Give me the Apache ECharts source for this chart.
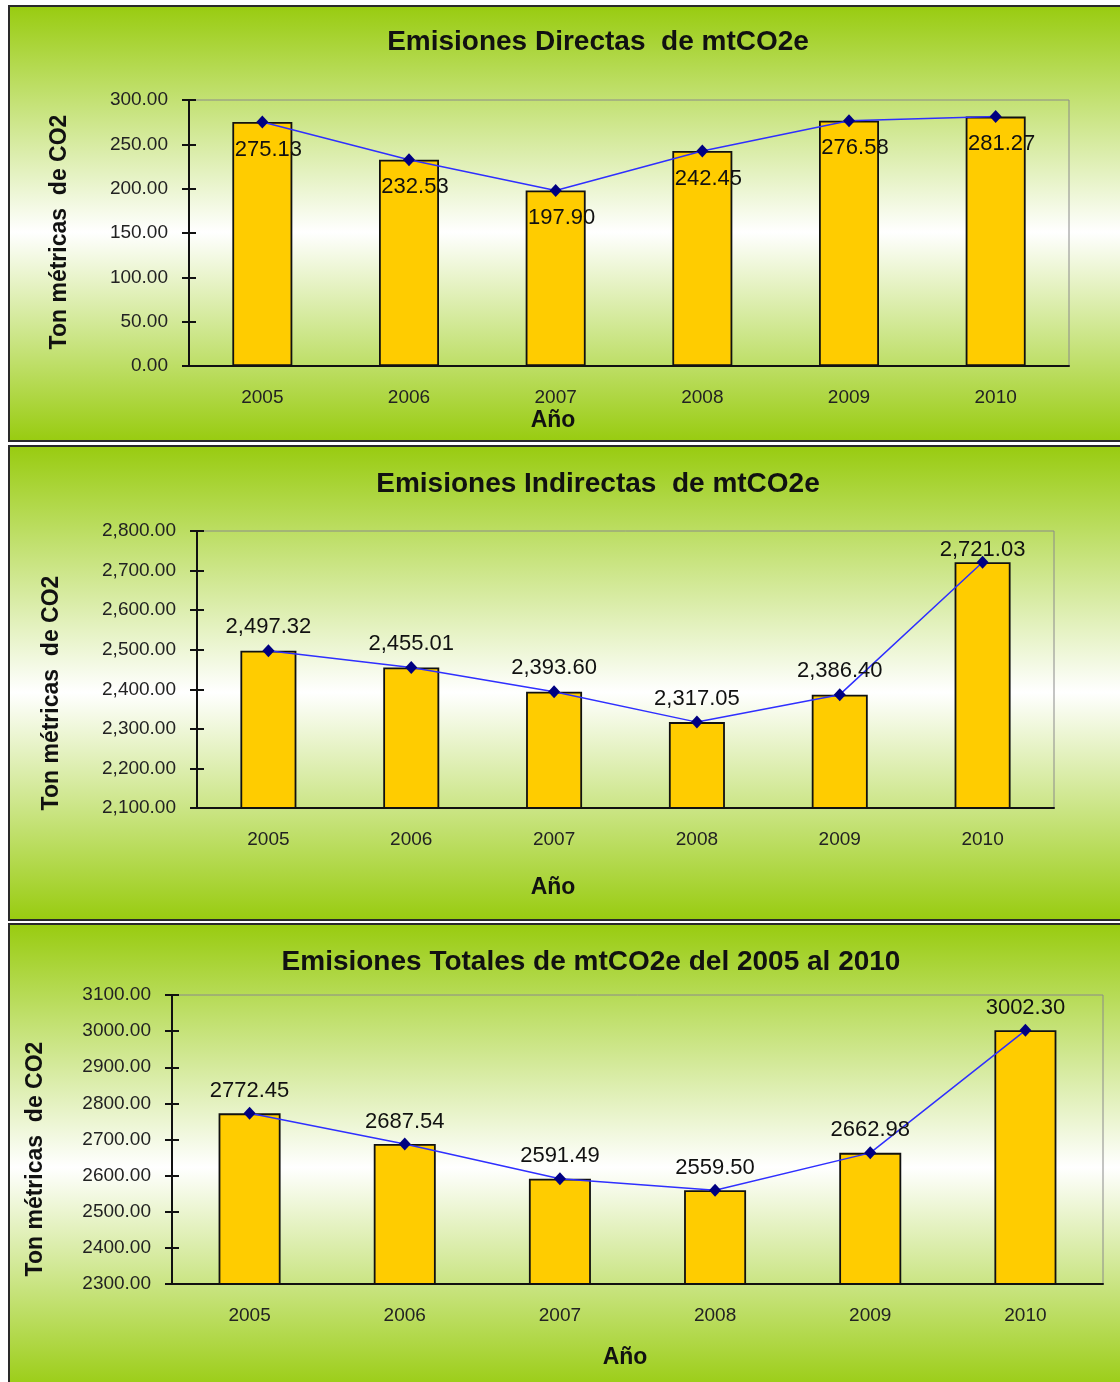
<!DOCTYPE html>
<html>
<head>
<meta charset="utf-8">
<script src="https://cdn.jsdelivr.net/npm/echarts@6/dist/echarts.min.js"></script>
<style>
  body { margin: 0; background: #fff; overflow: hidden; }
  .panel {
    position: absolute;
    left: 8px;
    width: 1120px;
    box-sizing: border-box;
    border: 2px solid #2a2a2a;
    background: linear-gradient(to bottom, #99cc11 0%, #ffffff 52%, #99cc11 100%);
  }
  #chart { position: absolute; left: 0; top: 0; width: 1120px; height: 1382px; }
</style>
</head>
<body>
<div class="panel" style="top: 5px; height: 437px;"></div>
<div class="panel" style="top: 445px; height: 476px;"></div>
<div class="panel" style="top: 923px; height: 470px;"></div>
<div id="chart"></div>
<script>
const years = ['2005', '2006', '2007', '2008', '2009', '2010']
const directas = [275.13, 232.53, 197.90, 242.45, 276.58, 281.27]
const indirectas = [2497.32, 2455.01, 2393.60, 2317.05, 2386.40, 2721.03]
const totales = [2772.45, 2687.54, 2591.49, 2559.50, 2662.98, 3002.30]

const titles = [
  'Emisiones Directas  de mtCO2e',
  'Emisiones Indirectas  de mtCO2e',
  'Emisiones Totales de mtCO2e del 2005 al 2010'
]
const yName = 'Ton métricas  de CO2'
const xName = 'Año'

const font = 'Arial, "Liberation Sans", sans-serif'

const fix2 = v => v.toFixed(2)
const comma2 = v => v.toLocaleString('en-US', { minimumFractionDigits: 2, maximumFractionDigits: 2 })

// per chart layout, page pixels
const charts = [
  { data: directas, min: 0, max: 300, interval: 50, fmt: fix2, left: 189, top: 100, width: 880, height: 266, barWidth: 60, labelPos: 'bottom', labelDist: 10, labelOffset: [6, 0], clamp: false, title: [598, 42], yNamePos: [60, 232], xNamePos: [553, 421] },
  { data: indirectas, min: 2100, max: 2800, interval: 100, fmt: comma2, left: 197, top: 531, width: 857, height: 277, barWidth: 56, labelPos: 'top', labelDist: 6, labelOffset: [0, 0], clamp: true, title: [598, 484], yNamePos: [52, 693], xNamePos: [553, 888] },
  { data: totales, min: 2300, max: 3100, interval: 100, fmt: fix2, left: 172, top: 995, width: 931, height: 289, barWidth: 62, labelPos: 'top', labelDist: 5, labelOffset: [0, 0], clamp: false, title: [591, 962], yNamePos: [36, 1159], xNamePos: [625, 1358] }
]

const chartInstance = echarts.init(document.getElementById('chart'))

const grid = []
const xAxis = []
const yAxis = []
const series = []
const graphic = []

charts.forEach((c, i) => {
  grid.push({
    left: c.left,
    top: c.top,
    width: c.width,
    height: c.height,
    show: true,
    borderColor: '#8a8a8a',
    borderWidth: 1,
    backgroundColor: 'transparent'
  })
  // main axes (outer ticks + labels)
  xAxis.push({
    type: 'category',
    gridIndex: i,
    data: years,
    axisLine: { lineStyle: { color: '#111', width: 2 } },
    axisTick: { length: 7, lineStyle: { color: '#111', width: 2 } },
    axisLabel: { color: '#222', fontSize: 19, fontFamily: font, margin: 22 }
  })
  // second axis only for the inner half of the crossing ticks
  xAxis.push({
    type: 'category',
    gridIndex: i,
    data: years,
    position: 'bottom',
    axisLine: { show: false },
    axisTick: { inside: true, length: 7, lineStyle: { color: '#111', width: 2 } },
    axisLabel: { show: false }
  })
  yAxis.push({
    type: 'value',
    gridIndex: i,
    min: c.min,
    max: c.max,
    interval: c.interval,
    splitLine: { show: false },
    axisLine: { show: true, lineStyle: { color: '#111', width: 2 } },
    axisTick: { show: true, length: 7, lineStyle: { color: '#111', width: 2 } },
    axisLabel: { color: '#222', fontSize: 19, fontFamily: font, margin: 21, formatter: c.fmt }
  })
  yAxis.push({
    type: 'value',
    gridIndex: i,
    position: 'left',
    min: c.min,
    max: c.max,
    interval: c.interval,
    splitLine: { show: false },
    axisLine: { show: false },
    axisTick: { show: true, inside: true, length: 7, lineStyle: { color: '#111', width: 2 } },
    axisLabel: { show: false }
  })
  series.push({
    type: 'bar',
    xAxisIndex: i * 2,
    yAxisIndex: i * 2,
    data: c.data,
    barWidth: c.barWidth,
    itemStyle: { color: '#ffcc00', borderColor: '#111', borderWidth: 1.8 },
    z: 2
  })
  series.push({
    type: 'line',
    xAxisIndex: i * 2,
    yAxisIndex: i * 2,
    data: c.data,
    symbol: 'diamond',
    symbolSize: [12, 13],
    itemStyle: { color: '#000080' },
    lineStyle: { color: '#2f2fff', width: 1.5 },
    label: {
      show: true,
      position: c.labelPos,
      distance: c.labelDist,
      offset: c.labelOffset,
      color: '#111',
      fontSize: 22,
      fontFamily: font,
      formatter: p => c.fmt(p.value)
    },
    // keep labels inside the plot frame, like the spreadsheet did
    labelLayout: c.clamp ? params => {
      const minTop = c.top + 8
      if (params.labelRect.y < minTop) {
        return { dy: minTop - params.labelRect.y }
      }
      return {}
    } : null,
    z: 3
  })
  graphic.push({
    type: 'text',
    x: c.title[0],
    y: c.title[1],
    style: { text: titles[i], fill: '#111', font: 'bold 28px ' + font, textAlign: 'center', textVerticalAlign: 'middle' }
  })
  graphic.push({
    type: 'text',
    x: c.yNamePos[0],
    y: c.yNamePos[1],
    rotation: Math.PI / 2,
    style: { text: yName, fill: '#111', font: 'bold 23px ' + font, textAlign: 'center', textVerticalAlign: 'middle' }
  })
  graphic.push({
    type: 'text',
    x: c.xNamePos[0],
    y: c.xNamePos[1],
    style: { text: xName, fill: '#111', font: 'bold 23px ' + font, textAlign: 'center', textVerticalAlign: 'middle' }
  })
})

chartInstance.setOption({
  animation: false,
  backgroundColor: 'transparent',
  grid,
  xAxis,
  yAxis,
  series,
  graphic
})
</script>
</body>
</html>
